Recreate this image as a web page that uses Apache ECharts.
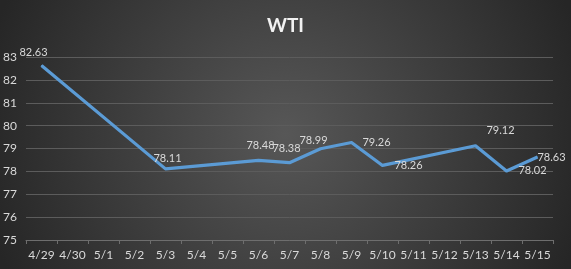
<!DOCTYPE html>
<html><head><meta charset="utf-8">
<script src="https://cdn.jsdelivr.net/npm/echarts@6/dist/echarts.min.js"></script>
<style>html,body{margin:0;padding:0;background:#333;}#c{width:571px;height:269px;}</style>
</head><body><div id="c"></div>
<script>
var categories = ['4/29','4/30','5/1','5/2','5/3','5/4','5/5','5/6','5/7','5/8','5/9','5/10','5/11','5/12','5/13','5/14','5/15'];
var wti = [82.63, null, null, null, 78.11, null, null, 78.48, 78.38, 78.99, 79.26, 78.26, null, null, 79.12, 78.02, 78.63];
var yTicks = [75, 76, 77, 78, 79, 80, 81, 82, 83];

// label placement (style), by category index
var labelOffset = {0:[-8,-13],4:[2,-10],7:[2,-15],8:[-3,-14],9:[-7,-8],10:[25,0],11:[26,0],14:[25,-15],15:[26,0],16:[14,0]};

var seriesData = wti.map(function(v, i){
  if (v === null) return null;
  var o = labelOffset[i] || [0,-12];
  return {value: v, label: {offset: o}};
});

var chart = echarts.init(document.getElementById('c'));
chart.setOption({
  backgroundColor: {type:'radial', x:0.5, y:0.5, r:1.15, colorStops:[{offset:0,color:'#575757'},{offset:1,color:'#262626'}]},
  title: {text:'WTI', left:'center', top:11, textStyle:{color:'#f2f2f2', fontFamily:'Lato', fontWeight:'bold', fontSize:19}},
  grid: {left:26, right:18, top:57, bottom:29, containLabel:false},
  xAxis: {
    type:'category', data:categories, boundaryGap:true,
    axisLine:{lineStyle:{color:'#6e6e6e'}},
    axisTick:{show:true, length:4, lineStyle:{color:'#6e6e6e'}},
    axisLabel:{color:'#d9d9d9', fontFamily:'Lato', fontSize:12, margin:9, interval:0}
  },
  yAxis: {
    type:'value', min:yTicks[0], max:yTicks[yTicks.length-1], interval:1,
    axisLine:{show:false}, axisTick:{show:false},
    axisLabel:{color:'#d9d9d9', fontFamily:'Lato', fontSize:12, margin:9},
    splitLine:{lineStyle:{color:'#5c5c5c', width:1}}
  },
  series: [{
    type:'line', data:seriesData, connectNulls:true,
    symbol:'circle', symbolSize:1, showSymbol:true,
    lineStyle:{color:'#5b9bd5', width:3.2, join:'round'},
    itemStyle:{color:'#5b9bd5'},
    label:{show:true, position:'inside', align:'center', verticalAlign:'middle', color:'#d9d9d9', fontFamily:'Lato', fontSize:11},
    animation:false
  }],
  animation:false
});
</script></body></html>
